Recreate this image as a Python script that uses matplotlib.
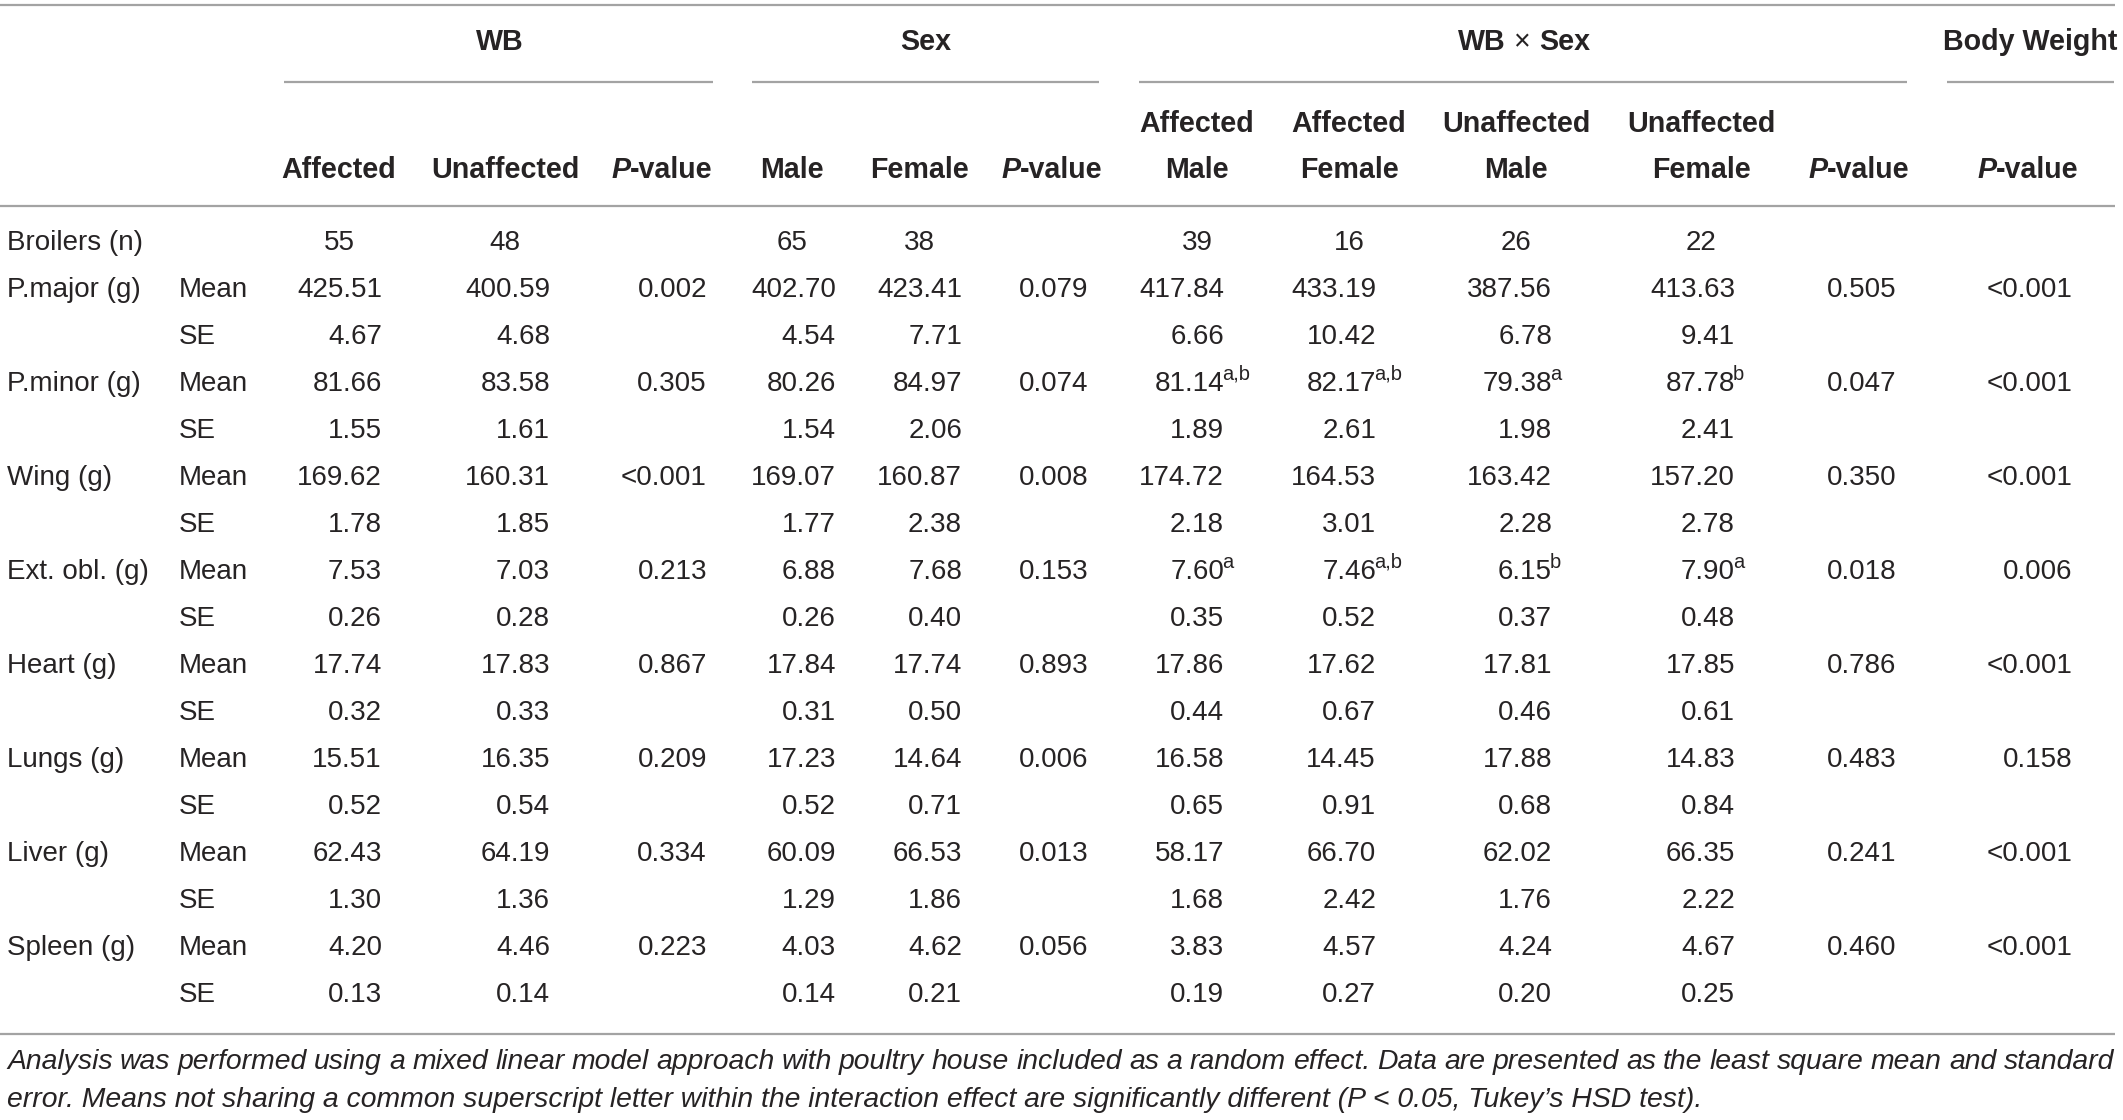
import matplotlib
matplotlib.use("Agg")
import matplotlib.pyplot as plt

# ---------------- data ----------------
row_labels = ["P.major (g)", "P.minor (g)", "Wing (g)", "Ext. obl. (g)",
              "Heart (g)", "Lungs (g)", "Liver (g)", "Spleen (g)"]

broilers_n = ["55", "48", "", "65", "38", "", "39", "16", "26", "22", "", ""]

wb_affected_mean = [425.51, 81.66, 169.62, 7.53, 17.74, 15.51, 62.43, 4.20]
wb_affected_se = [4.67, 1.55, 1.78, 0.26, 0.32, 0.52, 1.30, 0.13]
wb_unaffected_mean = [400.59, 83.58, 160.31, 7.03, 17.83, 16.35, 64.19, 4.46]
wb_unaffected_se = [4.68, 1.61, 1.85, 0.28, 0.33, 0.54, 1.36, 0.14]
wb_p = ["0.002", "0.305", "<0.001", "0.213", "0.867", "0.209", "0.334", "0.223"]

male_mean = [402.70, 80.26, 169.07, 6.88, 17.84, 17.23, 60.09, 4.03]
male_se = [4.54, 1.54, 1.77, 0.26, 0.31, 0.52, 1.29, 0.14]
female_mean = [423.41, 84.97, 160.87, 7.68, 17.74, 14.64, 66.53, 4.62]
female_se = [7.71, 2.06, 2.38, 0.40, 0.50, 0.71, 1.86, 0.21]
sex_p = ["0.079", "0.074", "0.008", "0.153", "0.893", "0.006", "0.013", "0.056"]

aff_male_mean = [417.84, 81.14, 174.72, 7.60, 17.86, 16.58, 58.17, 3.83]
aff_male_se = [6.66, 1.89, 2.18, 0.35, 0.44, 0.65, 1.68, 0.19]
aff_male_sup = ["", "a,b", "", "a", "", "", "", ""]
aff_female_mean = [433.19, 82.17, 164.53, 7.46, 17.62, 14.45, 66.70, 4.57]
aff_female_se = [10.42, 2.61, 3.01, 0.52, 0.67, 0.91, 2.42, 0.27]
aff_female_sup = ["", "a,b", "", "a,b", "", "", "", ""]
unaff_male_mean = [387.56, 79.38, 163.42, 6.15, 17.81, 17.88, 62.02, 4.24]
unaff_male_se = [6.78, 1.98, 2.28, 0.37, 0.46, 0.68, 1.76, 0.20]
unaff_male_sup = ["", "a", "", "b", "", "", "", ""]
unaff_female_mean = [413.63, 87.78, 157.20, 7.90, 17.85, 14.83, 66.35, 4.67]
unaff_female_se = [9.41, 2.41, 2.78, 0.48, 0.61, 0.84, 2.22, 0.25]
unaff_female_sup = ["", "b", "", "a", "", "", "", ""]
int_p = ["0.505", "0.047", "0.350", "0.018", "0.786", "0.483", "0.241", "0.460"]

bw_p = ["<0.001", "<0.001", "<0.001", "0.006", "<0.001", "0.158", "<0.001", "<0.001"]

footnote = ("Analysis was performed using a mixed linear model approach with poultry house included "
            "as a random effect. Data are presented as the least square mean and standard "
            "error. Means not sharing a common superscript letter within the interaction effect "
            "are significantly different (P < 0.05, Tukey\u2019s HSD test).")
footnote_split = 27  # number of words on first line

# ---------------- layout ----------------
W, H = 2123, 1120
FONT = ["Liberation Sans", "DejaVu Sans"]
FS = 20.0
FSB = 20.6
FSN = 20.4
TXT = "#262324"
LINE = "#a3a3a3"

fig = plt.figure(figsize=(W / 100, H / 100), dpi=100)
ax = fig.add_axes([0, 0, 1, 1])
ax.set_xlim(0, W)
ax.set_ylim(H, 0)
ax.axis("off")
renderer = fig.canvas.get_renderer()


def txt(x, y, s, ha="left", va="center", fs=FS, **kw):
    return ax.text(x, y, s, ha=ha, va=va, fontsize=fs, family=FONT, color=TXT, **kw)


def width(s, fs=FS, **kw):
    t = ax.text(0, 0, s, fontsize=fs, family=FONT, **kw)
    w = t.get_window_extent(renderer).width
    t.remove()
    return w


def pieces_centered(xc, y, pieces, fs=FSB):
    ws = [width(s, fs=fs, **kw) for s, kw in pieces]
    x = xc - sum(ws) / 2
    for (s, kw), w in zip(pieces, ws):
        txt(x, y, s, fs=fs, **kw)
        x += w


def hline(x0, x1, y):
    ax.plot([x0, x1], [y, y], color=LINE, lw=1.6, solid_capstyle="butt")


# column geometry: header centres and right edges of numbers
col_center = [339, 505, 662, 792, 919, 1052, 1197, 1349, 1516, 1701, 1859, 2028]
col_right = [382, 550, 707, 836, 962, 1088, 1224, 1376, 1552, 1735, 1896, 2072]

BOLD = dict(fontweight="bold")
BI = dict(fontweight="bold", fontstyle="italic")
PVAL = [("P", BI), ("-value", BOLD)]

# rules
hline(0, 2115, 5)
hline(0, 2115, 206)
hline(0, 2115, 1034)

# group headers
y_grp = 42
pieces_centered(500, y_grp, [("WB", BOLD)])
pieces_centered(926, y_grp, [("Sex", BOLD)])
pieces_centered(1524, y_grp, [("WB", BOLD), (" \u00d7 ", {}), ("Sex", BOLD)])
pieces_centered(2030, y_grp, [("Body Weight", BOLD)])
hline(284, 713, 82)
hline(752, 1099, 82)
hline(1139, 1907, 82)
hline(1947, 2114, 82)

# sub headers
y1, y2 = 124, 170
sub_top = ["", "", "", "", "", "", "Affected", "Affected", "Unaffected", "Unaffected", "", ""]
sub_bot = ["Affected", "Unaffected", None, "Male", "Female", None,
           "Male", "Female", "Male", "Female", None, None]
for i in range(12):
    if sub_top[i]:
        pieces_centered(col_center[i], y1, [(sub_top[i], BOLD)])
    if sub_bot[i] is None:
        pieces_centered(col_center[i], y2, PVAL)
    else:
        pieces_centered(col_center[i], y2, [(sub_bot[i], BOLD)])

# body
y0, dy = 243, 47
X_LABEL, X_STAT = 7, 179
txt(X_LABEL, y0, "Broilers (n)")
for i, n in enumerate(broilers_n):
    if n:
        txt(col_center[i], y0, n, ha="center")

mean_cols = [wb_affected_mean, wb_unaffected_mean, wb_p, male_mean, female_mean, sex_p,
             aff_male_mean, aff_female_mean, unaff_male_mean, unaff_female_mean, int_p, bw_p]
se_cols = [wb_affected_se, wb_unaffected_se, None, male_se, female_se, None,
           aff_male_se, aff_female_se, unaff_male_se, unaff_female_se, None, None]
sup_cols = {6: aff_male_sup, 7: aff_female_sup, 8: unaff_male_sup, 9: unaff_female_sup}


def fmt(v):
    return v if isinstance(v, str) else f"{v:.2f}"


for r, lab in enumerate(row_labels):
    ym = y0 + dy * (1 + 2 * r)
    ys = ym + dy
    txt(X_LABEL, ym, lab)
    txt(X_STAT, ym, "Mean")
    txt(X_STAT, ys, "SE")
    for c in range(12):
        txt(col_right[c], ym, fmt(mean_cols[c][r]), ha="right")
        if c in sup_cols and sup_cols[c][r]:
            txt(col_right[c] - 2, ym - 10, sup_cols[c][r], fs=14.5)
        if se_cols[c] is not None:
            txt(col_right[c], ys, fmt(se_cols[c][r]), ha="right")

# footnote (first line justified)
words = footnote.split(" ")
line1, line2 = words[:footnote_split], words[footnote_split:]
IT = dict(fontstyle="italic")
ws = [width(w, fs=FSN, **IT) for w in line1]
gap = (2115 - 8 - sum(ws)) / (len(line1) - 1)
x = 7
for w_, wd in zip(line1, ws):
    txt(x, 1062, w_, fs=FSN, **IT)
    x += wd + gap
txt(7, 1100, " ".join(line2), fs=FSN, **IT)

fig.savefig("out.png", dpi=100)
